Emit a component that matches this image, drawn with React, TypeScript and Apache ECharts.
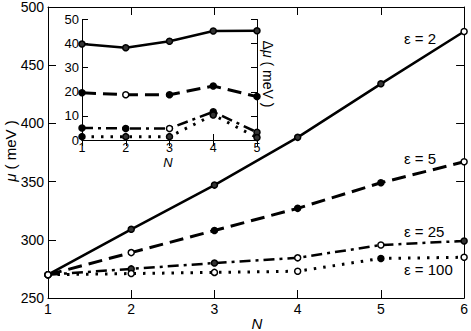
import React, { useEffect, useRef } from "react";
import * as echarts from "echarts";

// ---- data ----
const N_MAIN = [1, 2, 3, 4, 5, 6];
const MU_EPS2 = [270, 309, 347, 388, 434, 479];
const MU_EPS5 = [270, 289, 308, 327, 349, 367];
const MU_EPS25 = [270, 275, 280, 284.5, 295.5, 299];
const MU_EPS100 = [270, 271, 272, 273, 284, 285];

const N_INSET = [1, 2, 3, 4, 5];
const DMU_EPS2 = [39.8, 38.3, 41, 45.2, 45.3];
const DMU_EPS5 = [19.6, 18.8, 18.8, 22.4, 18];
const DMU_EPS25 = [5, 4.8, 4.8, 11.7, 3.2];
const DMU_EPS100 = [1.4, 1.4, 1.4, 10.4, 1];

const EPS_LABELS = ["ε = 2", "ε = 5", "ε = 25", "ε = 100"];

// ---- marker fill styles (o = open, f = filled, d = dotted centre) ----
const MARK_MAIN = ["oddddo", "oofffo", "oddood", "oooof"];
const MARK_INSET = ["ddddd", "fofff", "ffofd", "fdddd"];

const FONT = "Liberation Sans";
const FILL: Record<string, string> = { o: "#fff", f: "#000", d: "#333" };

const DASH_SOLID: any = "solid";
const DASH_LONG: any = [14, 7];
const DASH_DOT: any = [11, 5, 3, 5];
const DASH_DOTTED: any = [2.5, 7];

function mkSeries(name: string, xs: number[], ys: number[], marks: string, grid: number, dash: any, width: number, size: number) {
  return {
    name,
    type: "line",
    xAxisIndex: grid * 2,
    yAxisIndex: grid * 2,
    data: ys.map((v, i) => ({ value: [xs[i], v], itemStyle: { color: FILL[marks[i]] || "#fff" } })),
    symbol: "circle",
    symbolSize: size,
    showSymbol: true,
    lineStyle: { color: "#000", width, type: dash },
    itemStyle: { borderColor: "#000", borderWidth: 1.5 },
    z: 3,
  };
}

function axes(grid: number, min: number, max: number, interval: number, tickLen: number, labelMargin: number, isX: boolean, fontSize: number) {
  const base = {
    type: "value",
    gridIndex: grid,
    min,
    max,
    interval,
    splitLine: { show: false },
    axisLine: { show: true, lineStyle: { color: "#000", width: 1 } },
    axisTick: { show: true, inside: true, length: tickLen, lineStyle: { color: "#000", width: 1 } },
  };
  return [
    {
      ...base,
      position: isX ? "bottom" : "left",
      axisLabel: { show: true, color: "#000", fontFamily: FONT, fontSize, margin: labelMargin, showMinLabel: true, showMaxLabel: true },
    },
    {
      ...base,
      position: isX ? "top" : "right",
      axisLabel: { show: false },
    },
  ];
}

export default function App() {
  const ref = useRef<HTMLDivElement>(null);
  useEffect(() => {
    if (!ref.current) return;
    const chart = echarts.init(ref.current, undefined, { renderer: "svg" });
    const option: any = {
      animation: false,
      backgroundColor: "#fff",
      grid: [
        { left: 48, top: 6.5, right: 6, bottom: 33 },
        { left: 82, top: 19.5, width: 175, height: 120.5, backgroundColor: "#fff", show: true, borderWidth: 0 },
      ],
      xAxis: [...axes(0, 1, 6, 1, 8, 4, true, 14), ...axes(1, 1, 5, 1, 6, 1, true, 12.5)],
      yAxis: [...axes(0, 250, 500, 50, 8, 4, false, 14), ...axes(1, 0, 50, 10, 6, 3, false, 13)],
      series: [
        mkSeries(EPS_LABELS[0], N_MAIN, MU_EPS2, MARK_MAIN[0], 0, DASH_SOLID, 2.5, 6),
        mkSeries(EPS_LABELS[1], N_MAIN, MU_EPS5, MARK_MAIN[1], 0, DASH_LONG, 3, 6),
        mkSeries(EPS_LABELS[2], N_MAIN, MU_EPS25, MARK_MAIN[2], 0, DASH_DOT, 2.5, 6),
        mkSeries(EPS_LABELS[3], N_MAIN, MU_EPS100, MARK_MAIN[3], 0, DASH_DOTTED, 3, 6),
        mkSeries(EPS_LABELS[0] + " Δ", N_INSET, DMU_EPS2, MARK_INSET[0], 1, DASH_SOLID, 2.5, 6),
        mkSeries(EPS_LABELS[1] + " Δ", N_INSET, DMU_EPS5, MARK_INSET[1], 1, DASH_LONG, 3, 6),
        mkSeries(EPS_LABELS[2] + " Δ", N_INSET, DMU_EPS25, MARK_INSET[2], 1, DASH_DOT, 2.5, 6),
        mkSeries(EPS_LABELS[3] + " Δ", N_INSET, DMU_EPS100, MARK_INSET[3], 1, DASH_DOTTED, 3, 6),
      ],
      graphic: [
        { type: "text", x: 404, y: 38, style: { text: EPS_LABELS[0], fontFamily: FONT, fontSize: 15, fill: "#000", align: "left", verticalAlign: "middle" } },
        { type: "text", x: 404, y: 158, style: { text: EPS_LABELS[1], fontFamily: FONT, fontSize: 15, fill: "#000", align: "left", verticalAlign: "middle" } },
        { type: "text", x: 404, y: 231, style: { text: EPS_LABELS[2], fontFamily: FONT, fontSize: 15, fill: "#000", align: "left", verticalAlign: "middle" } },
        { type: "text", x: 404, y: 269, style: { text: EPS_LABELS[3], fontFamily: FONT, fontSize: 15, fill: "#000", align: "left", verticalAlign: "middle" } },
        { type: "text", x: 257, y: 323, style: { text: "N", fontFamily: FONT, fontSize: 15, fontStyle: "italic", fill: "#000", align: "center", verticalAlign: "middle" } },
        { type: "text", x: 168, y: 162, style: { text: "N", fontFamily: FONT, fontSize: 13, fontStyle: "italic", fill: "#000", align: "center", verticalAlign: "middle" } },
        {
          type: "text", x: 10, y: 151, rotation: Math.PI / 2,
          style: {
            text: "{i|μ} ( meV )", fontFamily: FONT, fontSize: 15, fill: "#000", align: "center", verticalAlign: "middle",
            rich: { i: { fontStyle: "italic", fontFamily: FONT, fontSize: 15, fill: "#000" } },
          },
        },
        {
          type: "text", x: 268, y: 74, rotation: -Math.PI / 2,
          style: {
            text: "Δ{i|μ} ( meV )", fontFamily: FONT, fontSize: 14, fill: "#000", align: "center", verticalAlign: "middle",
            rich: { i: { fontStyle: "italic", fontFamily: FONT, fontSize: 14, fill: "#000" } },
          },
        },
      ],
    };
    chart.setOption(option);
    return () => chart.dispose();
  }, []);
  return <div ref={ref} style={{ position: "fixed", left: 0, top: 0, width: 471, height: 331, background: "#fff" }} />;
}
